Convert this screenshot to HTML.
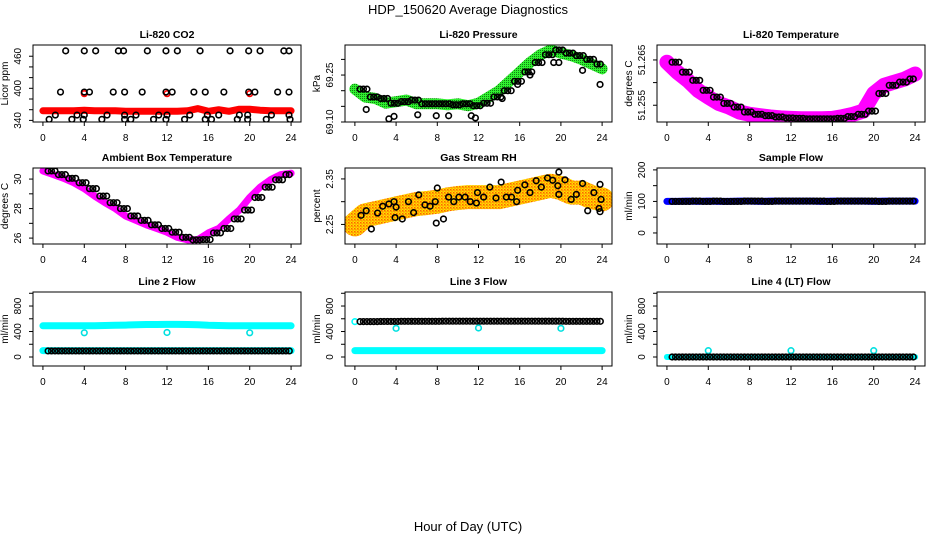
<!DOCTYPE html>
<html><head><meta charset="utf-8"><style>
body{margin:0;background:#fff;}
svg{display:block;font-family:"Liberation Sans",sans-serif;}
</style></head><body>
<svg id="chart" width="936" height="540" viewBox="0 0 936 540">
<defs>
<pattern id="rhpat" width="3" height="3" patternUnits="userSpaceOnUse"><rect width="3" height="3" fill="#ffe000"/><rect width="1.5" height="1.5" fill="#ff6000"/><rect x="1.5" y="1.5" width="1" height="1" fill="#ff4000"/></pattern>
<pattern id="grpat" width="2" height="2" patternUnits="userSpaceOnUse"><rect width="2" height="2" fill="#30f030"/><rect width="1" height="1" fill="#108010"/></pattern>
</defs>
<text x="468" y="14" text-anchor="middle" font-size="13">HDP_150620  Average Diagnostics</text>
<text x="468" y="531" text-anchor="middle" font-size="13">Hour of Day (UTC)</text>
</svg>
<script>
// ---- data ----
const hours = [0,1,2,3,4,5,6,7,8,9,10,11,12,13,14,15,16,17,18,19,20,21,22,23,24];
const co2BlackX = [2.2,4,5.1,7.3,7.8,10.1,11.9,13,15.2,18.1,19.9,21,23.3,23.8, 1.7,4,4.5,6.8,7.9,9.6,11.9,12.5,14.6,15.7,17.5,19.9,20.5,22.7,23.8, 1.2,3.3,4,6.2,7.9,9,11.2,12,14.2,15.9,17,19,19.8,22.1,23.8, 0.6,2.8,3.9,5.7,7.9,8.5,10.7,11.9,13.7,15.7,16.3,18.8,19.8,21.6,23.9];
const co2BlackY = [470,470,470,470,470,470,470,470,470,470,470,470,470,470, 393,393,393,393,393,393,393,393,393,393,393,393,393,393,393, 350,350,350,350,350,350,350,350,350,350,350,350,350,350,350, 342,342,342,342,342,342,342,342,342,342,342,342,342,342,342];
const co2Red = [358,358,358,358,359,358,358,358,357,357,357,357,357,357,358,362,357,360,357,361,361,359,358,358,358];
const co2RedOutX = [4,12,20];
const co2RedOutY = [390,390,390];
const pressure = [69.205,69.18,69.175,69.16,69.165,69.17,69.158,69.158,69.158,69.155,69.158,69.152,69.16,69.18,69.2,69.23,69.26,69.29,69.315,69.33,69.32,69.312,69.3,69.285,69.27];
const pressOutX = [1.1,3.3,3.8,6.1,7.9,9.1,11.3,11.7,14.3,15.8,17,19.3,19.8,22.1,23.8];
const pressOutY = [69.14,69.11,69.118,69.123,69.12,69.12,69.12,69.113,69.175,69.22,69.25,69.29,69.29,69.265,69.22];
const licorTemp = [51.2645,51.2623,51.2605,51.2583,51.2568,51.2554,51.2546,51.2535,51.253,51.2527,51.2524,51.2522,51.2521,51.252,51.252,51.252,51.2521,51.2525,51.253,51.2537,51.2576,51.2594,51.2601,51.2608,51.2619];
const ambient = [30.55,30.3,30.05,29.75,29.35,28.85,28.4,28.0,27.5,27.2,26.9,26.65,26.4,26.05,25.88,25.9,26.35,26.65,27.3,27.9,28.75,29.45,29.95,30.3,30.4];
const rh = [2.25,2.27,2.275,2.28,2.285,2.29,2.295,2.297,2.30,2.305,2.308,2.31,2.31,2.31,2.31,2.315,2.32,2.325,2.33,2.335,2.33,2.32,2.32,2.31,2.305];
const rhBlackX = [0.6,1.1,1.6,2.2,2.7,3.3,3.8,3.9,4,4.6,5.2,5.7,6.2,6.8,7.3,7.8,7.9,8,8.6,9.1,9.6,10.1,10.7,11.2,11.8,11.9,12.5,13.1,13.7,14.2,14.7,15.2,15.7,15.8,16.5,17,17.6,18.1,18.7,19.2,19.7,19.8,19.8,20.4,21,21.5,22.1,22.6,23.2,23.7,23.8,23.8,23.9];
const rhBlackY = [2.27,2.28,2.24,2.275,2.29,2.295,2.30,2.265,2.288,2.262,2.30,2.276,2.315,2.293,2.29,2.30,2.253,2.33,2.262,2.31,2.30,2.31,2.31,2.30,2.297,2.32,2.31,2.332,2.308,2.343,2.31,2.31,2.30,2.325,2.337,2.32,2.346,2.332,2.352,2.347,2.335,2.365,2.316,2.348,2.305,2.316,2.34,2.28,2.32,2.285,2.278,2.338,2.305];
const sampleFlow = [100,100,101,100,101,100,100,101,101,100,101,101,101,101,101,100,101,101,101,101,100,101,101,101,101];
const line2Upper = [490,490,490,490,490,492,495,498,500,505,510,510,512,512,510,505,498,495,492,490,490,490,490,490,490];
const line2Lower = [100,100,100,100,100,100,100,100,100,100,100,100,100,100,100,100,100,100,100,100,100,100,100,100,100];
const line2Black = [95,95,95,95,95,95,95,95,95,95,95,95,95,95,95,95,95,95,95,95,95,95,95,95,95];
const line2OutX = [4,12,20];
const line2OutY = [380,385,380];
const line3Black = [555,555,558,558,560,560,560,560,562,562,562,562,562,562,562,562,562,562,562,562,560,560,560,560,560];
const line3Cyan = [100,100,100,100,100,100,100,100,100,100,100,100,100,100,100,100,100,100,100,100,100,100,100,100,100];
const line3OutX = [4,12,20];
const line3OutY = [450,455,450];
const line4Cyan = [0,0,0,0,0,0,0,0,0,0,0,0,0,0,0,0,0,0,0,0,0,0,0,0,0];
const line4Black = [0,0,0,0,0,0,0,0,0,0,0,0,0,0,0,0,0,0,0,0,0,0,0,0,0];
const line4OutX = [4,12,20];
const line4OutY = [100,100,100];
const xTickLabels = ["0","4","8","12","16","20","24"];

// ---- layout ----
const NS="http://www.w3.org/2000/svg";
const svg=document.getElementById('chart');
const cols=[[33,301],[345,612],[657,925]];
const rows=[[45,122],[168,244],[292,366]];
function mk(tag,attrs,parent){const e=document.createElementNS(NS,tag);for(const k in attrs)e.setAttribute(k,attrs[k]);(parent||svg).appendChild(e);return e;}
function panel(ci,ri,title,ylab,ylim,yticks,ylabels,name){
  const [x0,x1]=cols[ci],[y0,y1]=rows[ri];
  const g=mk('g',{});
  
  
  const sx=v=>x0+(v+0.96)/25.92*(x1-x0);
  const sy=v=>y1-(v-ylim[0])/(ylim[1]-ylim[0])*(y1-y0);
  const t=mk('text',{x:(x0+x1)/2,y:y0-7,'text-anchor':'middle','font-size':10.5,'font-weight':'bold'},g);t.textContent=title;
  
  
  const ax=mk('g',{stroke:'#000','stroke-width':1},g);
  
  
  xTickLabels.forEach(l=>{const v=+l;mk('line',{x1:sx(v),x2:sx(v),y1:y1,y2:y1+4},ax);
    const tt=mk('text',{x:sx(v),y:y1+19,'text-anchor':'middle','font-size':10,stroke:'none'},ax);tt.textContent=l;});
  const ay=mk('g',{stroke:'#000','stroke-width':1},g);
  
  
  yticks.forEach(v=>mk('line',{x1:x0,x2:x0-4,y1:sy(v),y2:sy(v)},ay));
  ylabels.forEach(v=>{const tt=mk('text',{x:0,y:0,transform:`translate(${x0-12},${sy(v)}) rotate(-90)`,'text-anchor':'middle','font-size':10,stroke:'none'},ay);tt.textContent=String(v);});
  const yt=mk('text',{transform:`translate(${x0-25},${(y0+y1)/2}) rotate(-90)`,'text-anchor':'middle','font-size':10},g);yt.textContent=ylab;
  
  
  const clip='c'+ci+ri;
  const cp=mk('clipPath',{id:clip},g);mk('rect',{x:x0,y:y0,width:x1-x0,height:y1-y0},cp);
  const plot=mk('g',{'clip-path':`url(#${clip})`},g);
  mk('rect',{x:x0,y:y0,width:x1-x0,height:y1-y0,fill:'none',stroke:'#000','stroke-width':1},g);
  return {sx,sy,plot};
}
function band(p,vals,color,w,name){
  const d=vals.map((v,i)=>(i?'L':'M')+p.sx(hours[i]).toFixed(1)+','+p.sy(v).toFixed(1)).join('');
  const e=mk('path',{d,fill:'none',stroke:color,'stroke-width':w,'stroke-linejoin':'round','stroke-linecap':'round'},p.plot);
  
  
}
function pts(p,xs,ys,color,name,r){
  xs.forEach((x,i)=>{const c=mk('circle',{cx:p.sx(x),cy:p.sy(ys[i]),r:r||2.8,fill:'none',stroke:color,'stroke-width':1.6},p.plot);
    
    });
}
function hourlyPts(p,vals,color,name){
  vals.forEach((v,i)=>{if(i===24)return;[0.5,0.83,1.17].forEach(o=>{const x=hours[i]+o;if(x>24)return;
    const c=mk('circle',{cx:p.sx(x),cy:p.sy(v),r:2.8,fill:'none',stroke:color,'stroke-width':1.6},p.plot);
    
    });});
}
let p=panel(0,0,'Li-820 CO2','Licor ppm',[337,481],[340,360,380,400,420,440,460],[340,400,460],'co2');
band(p,co2Red,'#ff0000',7,'co2-red-series');
pts(p,co2RedOutX,co2RedOutY,'#ff0000','co2-red-point');
pts(p,co2BlackX,co2BlackY,'#000','co2-black-point');
p=panel(1,0,'Li-820 Pressure','kPa',[69.10,69.346],[69.10,69.15,69.20,69.25,69.30],['69.10','69.25'],'pressure');
band(p,pressure,'url(#grpat)',11,'pressure-green-series');
hourlyPts(p,pressure,'#000','pressure-black-point');
pts(p,pressOutX,pressOutY,'#000','pressure-black-point');
p=panel(2,0,'Li-820 Temperature','degrees C',[51.2513,51.2683],[51.255,51.26,51.265],['51.255','51.265'],'licor-temp');
band(p,licorTemp,'#ff00ff',15,'licor-temp-magenta-series');
hourlyPts(p,licorTemp,'#000','licor-temp-black-point');
p=panel(0,1,'Ambient Box Temperature','degrees C',[25.6,30.75],[26,27,28,29,30],[26,28,30],'ambient');
band(p,ambient,'#ff00ff',7,'ambient-magenta-series');
hourlyPts(p,ambient,'#000','ambient-black-point');
p=panel(1,1,'Gas Stream RH','percent',[2.207,2.374],[2.25,2.30,2.35],['2.25','2.35'],'rh');
band(p,rh,'url(#rhpat)',24,'rh-orange-series');
pts(p,rhBlackX,rhBlackY,'#000','rh-black-point');
p=panel(2,1,'Sample Flow','ml/min',[-35,206],[0,50,100,150,200],[0,100,200],'sample-flow');
band(p,sampleFlow,'#0000ff',7,'sample-flow-blue-series');
hourlyPts(p,sampleFlow,'#000','sample-flow-black-point');
const fl=[-141,1020],ft=[0,200,400,600,800,1000],fll=[0,400,800];
p=panel(0,2,'Line 2 Flow','ml/min',fl,ft,fll,'line2');
band(p,line2Upper,'#00ffff',7,'line2-cyan-upper');
band(p,line2Lower,'#00ffff',7,'line2-cyan-lower');
pts(p,line2OutX,line2OutY,'#00e0e0','line2-cyan-point');
hourlyPts(p,line2Black,'#000','line2-black-point');
p=panel(1,2,'Line 3 Flow','ml/min',fl,ft,fll,'line3');
band(p,line3Cyan,'#00ffff',7,'line3-cyan-series');
pts(p,[0],[555],'#00ffff','line3-cyan-point');
pts(p,line3OutX,line3OutY,'#00e0e0','line3-cyan-point');
hourlyPts(p,line3Black,'#000','line3-black-point');
p=panel(2,2,'Line 4 (LT) Flow','ml/min',fl,ft,fll,'line4');
band(p,line4Cyan,'#00ffff',6,'line4-cyan-series');
pts(p,line4OutX,line4OutY,'#00e0e0','line4-cyan-point');
hourlyPts(p,line4Black,'#000','line4-black-point');
</script>
</body></html>
